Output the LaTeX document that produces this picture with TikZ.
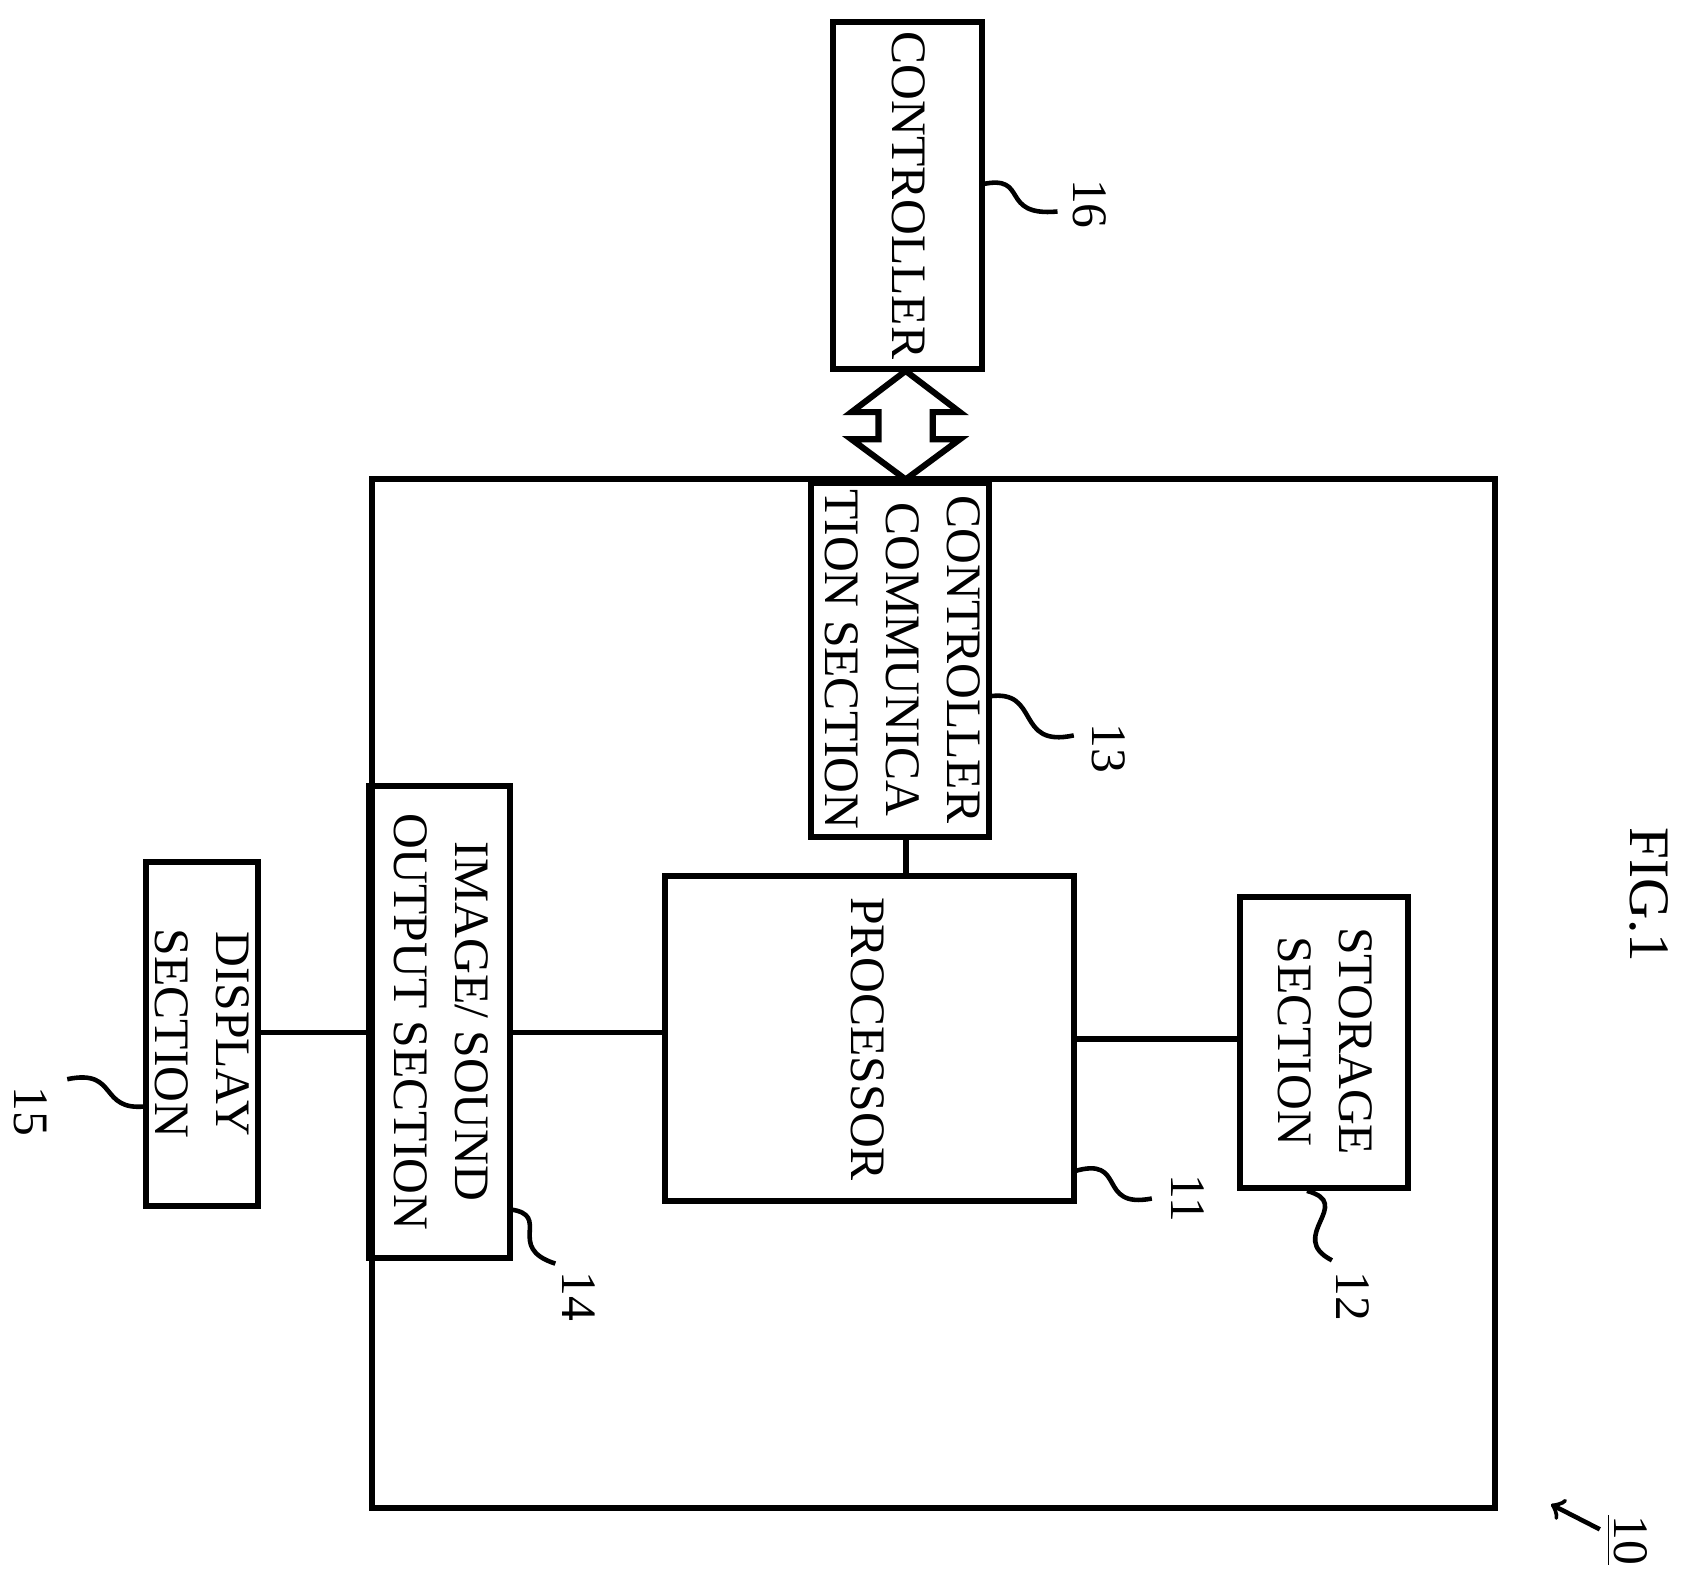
\documentclass[tikz,border=0pt]{standalone}
\usepackage{fontspec}
\setmainfont{Liberation Serif}
\usetikzlibrary{calc}
\tikzset{ blk/.style = { draw
                       , line width = 1.6pt
                       },
          txt/.style = { rotate       = -90
                       , align        = center
                       , font         = \fontsize{13}{16}\selectfont
                       , inner sep    = 0pt
                       },
          ref/.style = { rotate       = -90
                       , font         = \fontsize{13}{16}\selectfont
                       , inner sep    = 1pt
                       },
          lead/.style = { line width = 1.2pt
                        },
          wire/.style = { line width = 1.5pt
                        }
        }
\begin{document}
\begin{tikzpicture}[x=0.01cm, y=-0.01cm]
    \useasboundingbox (0,0) rectangle (1560,1448);
    % housing
    \draw[blk] (343,442) rectangle (1378,1390);
    % blocks
    \draw[blk] (768,20) rectangle (905,340);
    \node[txt] (ctl) at (838,180) {CONTROLLER};
    \draw[blk] (748,445) rectangle (912,772);
    \node[txt] (com) at (832,608) {CONTROLLER\\COMMUNICA\\TION SECTION};
    \draw[blk] (613,808) rectangle (990,1107);
    \node[txt] (pro) at (800,958) {PROCESSOR};
    \draw[blk] (1143,827) rectangle (1298,1095);
    \node[txt] (sto) at (1222,960) {STORAGE\\SECTION};
    \draw[blk] (340,725) rectangle (470,1160);
    \node[txt] (img) at (407,942) {IMAGE/ SOUND\\OUTPUT SECTION};
    \draw[blk] (135,795) rectangle (238,1112);
    \node[txt] (dsp) at (186,953) {DISPLAY\\SECTION};
    % named ports
    \coordinate (comB) at (835,772);
    \coordinate (proT) at (835,808);
    \coordinate (proR) at (990,958);
    \coordinate (stoL) at (1143,958);
    \coordinate (proL) at (613,952);
    \coordinate (imgR) at (470,952);
    \coordinate (imgL) at (340,952);
    \coordinate (dspR) at (238,952);
    % connections
    \draw[wire] (comB) -- (proT);
    \draw[wire] (proR) -- (stoL);
    \draw[wire] (imgR) -- (proL);
    \draw[wire] (dspR) -- (imgL);
    % block double arrow
    \draw[line width=1.6pt, fill=white]
        (835,342) -- (885,380) -- (860,380) -- (860,405) -- (885,405)
        -- (835,442) -- (785,405) -- (810,405) -- (810,380) -- (785,380) -- cycle;
    % reference numerals
    \node[ref] (n16) at (1005,188) {16};
    \draw[lead] (905,170) .. controls (950,160) and (920,200) .. (975,195);
    \node[ref] (n13) at (1022,690) {13};
    \draw[lead] (912,642) .. controls (960,635) and (935,690) .. (990,678);
    \node[ref] (n11) at (1095,1105) {11};
    \draw[lead] (990,1080) .. controls (1040,1065) and (1010,1115) .. (1062,1105);
    \node[ref] (n12) at (1247,1195) {12};
    \draw[lead] (1205,1098) .. controls (1250,1110) and (1185,1140) .. (1228,1162);
    \node[ref] (n14) at (534,1195) {14};
    \draw[lead] (470,1115) .. controls (510,1120) and (465,1150) .. (512,1165);
    \node[ref] (n15) at (28,1025) {15};
    \draw[lead] (135,1020) .. controls (90,1025) and (110,985) .. (62,995);
    \node[ref, font=\fontsize{15}{18}\selectfont] (fig) at (1520,825) {FIG.1};
    \node[ref] (n10) at (1500,1420) {\underline{10}};
    \draw[lead, ->] (1475,1410) -- (1430,1387);
\end{tikzpicture}
\end{document}
